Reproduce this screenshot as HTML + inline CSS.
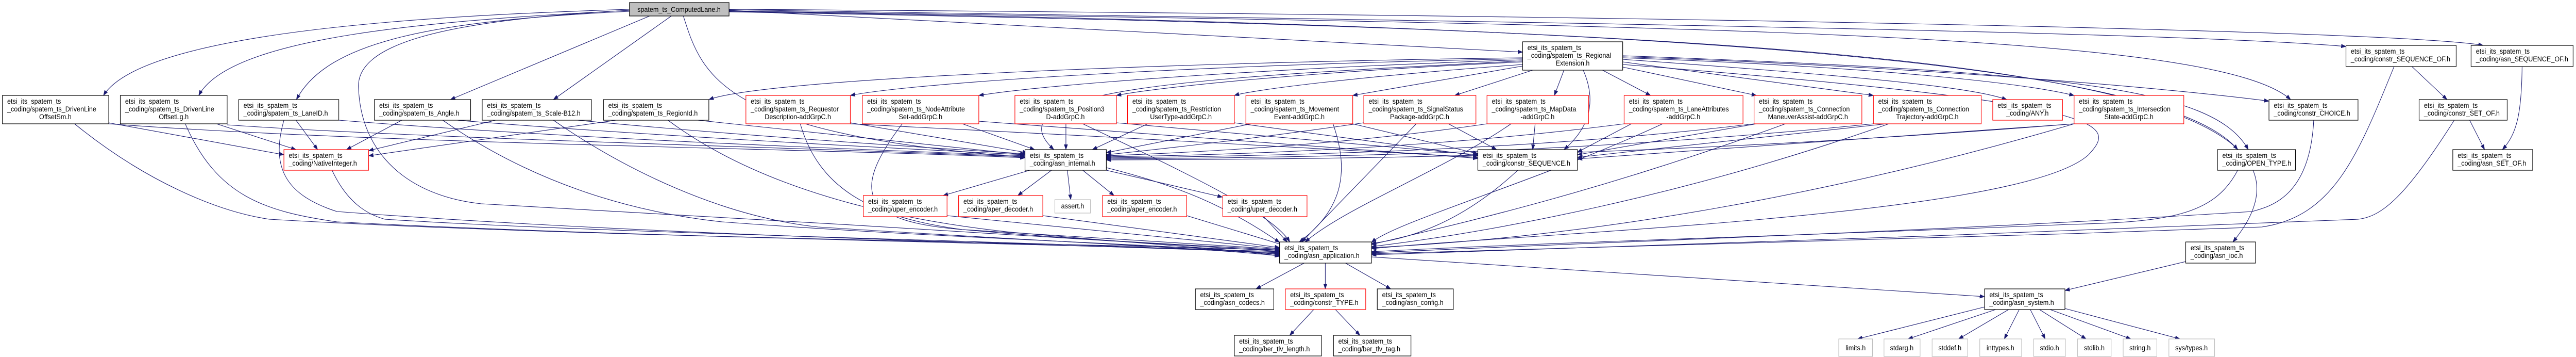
<!DOCTYPE html>
<html><head><meta charset="utf-8"><style>
html,body{margin:0;padding:0;background:#fff;width:100%;height:100%;overflow:hidden;}
svg{display:block;position:fixed;left:0;top:0;width:100vw;height:100vh;}
text{font-family:"Liberation Sans",sans-serif;font-size:13.5px;fill:#000;}
.e{fill:none;stroke:#191970;stroke-width:1.1;marker-end:url(#a);}
.b{fill:#fff;stroke:#000;stroke-width:1.2;}
.r{fill:#fff;stroke:#ff0000;stroke-width:1.2;}
.g{fill:#fff;stroke:#bfbfbf;stroke-width:1.2;}
</style></head><body>
<svg viewBox="0 0 5353 692" preserveAspectRatio="none" xmlns="http://www.w3.org/2000/svg">
<defs><marker id="a" markerWidth="11" markerHeight="8" refX="10" refY="4" orient="auto" markerUnits="userSpaceOnUse"><path d="M0,0 L11,4 L0,8 z" fill="#191970"/></marker></defs>

<path class="e" d="M1308,18 C900,30 300,60 215,185"/>
<path class="e" d="M1308,20 C900,40 480,70 413,185"/>
<path class="e" d="M1308,22 C900,40 680,80 616,193"/>
<path class="e" d="M1308,20 C900,40 740,90 745,170 C750,300 850,380 1000,395 C1500,420 2200,460 2659,487"/>
<path class="e" d="M1350,31 L936,193"/>
<path class="e" d="M1395,31 L1150,193"/>
<path class="e" d="M1420,31 C1460,150 1500,260 2130,305"/>
<path class="e" d="M1515,20 L3164,101"/>
<path class="e" d="M1515,19 C3000,40 4500,60 4875,90"/>
<path class="e" d="M1515,18 C3500,30 5000,60 5160,88"/>
<path class="e" d="M1515,21 C3500,50 4600,60 4760,193"/>
<path class="e" d="M1515,22 C3500,50 4500,120 4650,290"/>
<path class="e" d="M1515,23 C3800,60 4950,120 4640,469"/>

<path class="e" d="M3164,112 C2500,120 1600,150 1473,193"/>
<path class="e" d="M3164,114 C2500,125 1900,160 1767,185"/>
<path class="e" d="M3164,116 C2700,130 2200,160 2034,185"/>
<path class="e" d="M3164,118 C2500,150 2050,170 2190,290"/>
<path class="e" d="M3164,120 C2700,140 2400,170 2320,185"/>
<path class="e" d="M3164,125 C2800,150 2600,175 2565,185"/>
<path class="e" d="M3164,128 L2811,185"/>
<path class="e" d="M3185,136 L3023,185"/>
<path class="e" d="M3250,136 L3230,185"/>
<path class="e" d="M3290,136 C3320,200 3300,250 3250,290"/>
<path class="e" d="M3330,136 L3430,185"/>
<path class="e" d="M3372,130 L3650,185"/>
<path class="e" d="M3372,120 L3893,185"/>
<path class="e" d="M3372,115 C3900,150 4100,170 4170,193"/>
<path class="e" d="M3372,112 C3900,130 4200,160 4310,185"/>
<path class="e" d="M3372,110 C4000,130 4500,170 4715,196"/>
<path class="e" d="M3372,108 C4300,140 4600,170 4672,290"/>
<path class="e" d="M3372,125 C4400,200 4400,240 4340,300 C4200,420 3200,450 2850,482"/>

<path class="e" d="M226,238 L590,300"/>
<path class="e" d="M450,240 L615,290"/>
<path class="e" d="M615,233 L660,290"/>
<path class="e" d="M835,233 L720,290"/>
<path class="e" d="M1030,233 L766,292"/>
<path class="e" d="M1280,233 L766,302"/>

<path class="e" d="M226,240 C800,280 1800,290 2130,306"/>
<path class="e" d="M472,242 C900,270 1800,290 2130,304"/>
<path class="e" d="M704,233 C1200,270 1800,290 2130,302"/>
<path class="e" d="M950,233 C1300,260 1800,285 2130,300"/>
<path class="e" d="M1200,233 C1500,260 1900,285 2130,298"/>
<path class="e" d="M1450,233 L2130,300"/>
<path class="e" d="M1767,238 L2135,296"/>
<path class="e" d="M2000,240 L2150,290"/>
<path class="e" d="M2215,240 L2215,290"/>
<path class="e" d="M2385,240 L2270,290"/>
<path class="e" d="M2600,240 L2299,296"/>
<path class="e" d="M2834,238 C2600,270 2400,290 2299,300"/>
<path class="e" d="M3090,240 C2800,280 2500,295 2299,302"/>
<path class="e" d="M3375,240 C3000,285 2600,300 2299,304"/>
<path class="e" d="M3645,240 C3200,290 2700,302 2299,306"/>
<path class="e" d="M3893,240 C3300,295 2800,305 2299,308"/>
<path class="e" d="M4310,240 C3500,300 2900,308 2299,310"/>

<path class="e" d="M155,240 C300,350 450,410 560,425 C1200,460 2200,470 2659,485"/>
<path class="e" d="M385,240 C450,380 550,410 700,430 C1300,460 2300,475 2659,488"/>
<path class="e" d="M590,233 C560,330 600,380 700,410 C1400,460 2300,475 2659,490"/>
<path class="e" d="M690,330 C720,390 760,415 800,425 C1300,455 2300,470 2659,492"/>
<path class="e" d="M920,233 C1100,350 1300,410 1500,430 C2000,465 2500,475 2659,494"/>
<path class="e" d="M1150,233 C1300,330 1500,420 1700,440 C2200,470 2500,480 2659,496"/>
<path class="e" d="M1388,233 C1600,380 1900,430 2100,450 C2400,475 2600,485 2659,497"/>
<path class="e" d="M1663,240 C1700,360 1800,420 2000,445 C2300,470 2600,480 2659,485"/>
<path class="e" d="M1875,240 C1760,380 1800,430 2000,445 C2400,470 2600,480 2659,483"/>
<path class="e" d="M2250,240 C2500,350 2650,420 2680,469"/>
<path class="e" d="M2770,240 C2800,320 2800,400 2700,469"/>
<path class="e" d="M2943,240 L2705,469"/>
<path class="e" d="M3140,240 C3000,330 2800,400 2712,469"/>
<path class="e" d="M3455,240 C3200,350 2900,430 2850,470"/>
<path class="e" d="M3710,240 C3300,380 3000,440 2850,474"/>
<path class="e" d="M3925,240 C3500,380 3100,450 2850,478"/>
<path class="e" d="M4310,240 C3800,380 3300,460 2850,480"/>
<path class="e" d="M3154,330 C3050,420 2950,460 2850,472"/>
<path class="e" d="M1968,418 L2659,482"/>
<path class="e" d="M2167,418 L2659,480"/>
<path class="e" d="M2466,418 L2670,476"/>
<path class="e" d="M2626,420 L2675,469"/>
<path class="e" d="M2299,325 C2450,360 2550,400 2659,470"/>
<path class="e" d="M4650,330 C4600,420 4500,430 4300,435 C3800,455 3200,470 2850,488"/>
<path class="e" d="M4808,233 C4800,380 4720,400 4680,410 C4000,450 3300,470 2850,490"/>
<path class="e" d="M4975,129 C4900,300 4850,420 4700,440 C4000,465 3200,480 2850,492"/>
<path class="e" d="M5100,233 C5000,380 4950,420 4900,425 C4300,450 3300,480 2850,494"/>

<path class="e" d="M1767,240 C2200,260 2800,290 3071,305"/>
<path class="e" d="M2034,235 C2500,270 2900,295 3071,307"/>
<path class="e" d="M2320,238 L3071,300"/>
<path class="e" d="M2565,238 L3071,302"/>
<path class="e" d="M2811,240 L3071,298"/>
<path class="e" d="M3010,240 L3110,290"/>
<path class="e" d="M3190,240 L3185,290"/>
<path class="e" d="M3390,240 L3278,295"/>
<path class="e" d="M3650,240 L3278,300"/>
<path class="e" d="M3920,240 L3278,305"/>
<path class="e" d="M4310,240 L3278,308"/>

<path class="e" d="M2140,330 L1960,379"/>
<path class="e" d="M2185,330 L2115,379"/>
<path class="e" d="M2218,330 L2225,387"/>
<path class="e" d="M2250,330 L2315,379"/>
<path class="e" d="M2299,330 L2540,382"/>

<path class="e" d="M2710,510 L2610,560"/>
<path class="e" d="M2754,510 L2754,560"/>
<path class="e" d="M2796,510 L2890,560"/>
<path class="e" d="M2850,498 L4124,575"/>
<path class="e" d="M2730,600 L2680,650"/>
<path class="e" d="M2775,600 L2826,650"/>
<path class="e" d="M4542,507 L4291,563"/>
<path class="e" d="M4124,595 L3860,657"/>
<path class="e" d="M4147,600 L3965,657"/>
<path class="e" d="M4174,600 L4070,657"/>
<path class="e" d="M4196,600 L4165,657"/>
<path class="e" d="M4219,600 L4250,657"/>
<path class="e" d="M4238,600 L4335,657"/>
<path class="e" d="M4260,600 L4428,657"/>
<path class="e" d="M4291,598 L4530,657"/>
<path class="e" d="M5012,129 L5085,193"/>
<path class="e" d="M5132,233 L5163,290"/>
<path class="e" d="M5241,129 C5240,220 5230,260 5200,290"/>

<rect x="1308" y="5" width="207" height="26" fill="#bfbfbf" stroke="#000" stroke-width="1.2"/>
<text x="1411" y="23" text-anchor="middle">spatem_ts_ComputedLane.h</text>

<g>
<rect class="b" x="5" y="185" width="221" height="55"/><text x="15" y="201">etsi_its_spatem_ts</text><text x="15" y="216">_coding/spatem_ts_DrivenLine</text><text x="115" y="231" text-anchor="middle">OffsetSm.h</text>
<rect class="b" x="250" y="185" width="222" height="55"/><text x="260" y="201">etsi_its_spatem_ts</text><text x="260" y="216">_coding/spatem_ts_DrivenLine</text><text x="361" y="231" text-anchor="middle">OffsetLg.h</text>
<rect class="b" x="496" y="193" width="208" height="40"/><text x="506" y="209">etsi_its_spatem_ts</text><text x="506" y="224">_coding/spatem_ts_LaneID.h</text>
<rect class="b" x="778" y="193" width="200" height="40"/><text x="788" y="209">etsi_its_spatem_ts</text><text x="788" y="224">_coding/spatem_ts_Angle.h</text>
<rect class="b" x="1002" y="193" width="227" height="40"/><text x="1012" y="209">etsi_its_spatem_ts</text><text x="1012" y="224">_coding/spatem_ts_Scale-B12.h</text>
<rect class="b" x="1254" y="193" width="219" height="40"/><text x="1264" y="209">etsi_its_spatem_ts</text><text x="1264" y="224">_coding/spatem_ts_RegionId.h</text>
<rect class="r" x="590" y="290" width="176" height="40"/><text x="600" y="306">etsi_its_spatem_ts</text><text x="600" y="321">_coding/NativeInteger.h</text>

<rect class="r" x="1550" y="185" width="217" height="55"/><text x="1560" y="201">etsi_its_spatem_ts</text><text x="1560" y="216">_coding/spatem_ts_Requestor</text><text x="1658" y="231" text-anchor="middle">Description-addGrpC.h</text>
<rect class="r" x="1792" y="185" width="242" height="55"/><text x="1802" y="201">etsi_its_spatem_ts</text><text x="1802" y="216">_coding/spatem_ts_NodeAttribute</text><text x="1913" y="231" text-anchor="middle">Set-addGrpC.h</text>
<rect class="r" x="2109" y="185" width="211" height="55"/><text x="2119" y="201">etsi_its_spatem_ts</text><text x="2119" y="216">_coding/spatem_ts_Position3</text><text x="2214" y="231" text-anchor="middle">D-addGrpC.h</text>
<rect class="r" x="2343" y="185" width="222" height="55"/><text x="2353" y="201">etsi_its_spatem_ts</text><text x="2353" y="216">_coding/spatem_ts_Restriction</text><text x="2454" y="231" text-anchor="middle">UserType-addGrpC.h</text>
<rect class="r" x="2589" y="185" width="222" height="55"/><text x="2599" y="201">etsi_its_spatem_ts</text><text x="2599" y="216">_coding/spatem_ts_Movement</text><text x="2700" y="231" text-anchor="middle">Event-addGrpC.h</text>
<rect class="r" x="2834" y="185" width="233" height="55"/><text x="2844" y="201">etsi_its_spatem_ts</text><text x="2844" y="216">_coding/spatem_ts_SignalStatus</text><text x="2950" y="231" text-anchor="middle">Package-addGrpC.h</text>
<rect class="r" x="3090" y="185" width="211" height="55"/><text x="3100" y="201">etsi_its_spatem_ts</text><text x="3100" y="216">_coding/spatem_ts_MapData</text><text x="3195" y="231" text-anchor="middle">-addGrpC.h</text>
<rect class="r" x="3375" y="185" width="247" height="55"/><text x="3385" y="201">etsi_its_spatem_ts</text><text x="3385" y="216">_coding/spatem_ts_LaneAttributes</text><text x="3498" y="231" text-anchor="middle">-addGrpC.h</text>
<rect class="r" x="3645" y="185" width="224" height="55"/><text x="3655" y="201">etsi_its_spatem_ts</text><text x="3655" y="216">_coding/spatem_ts_Connection</text><text x="3757" y="231" text-anchor="middle">ManeuverAssist-addGrpC.h</text>
<rect class="r" x="3893" y="185" width="224" height="55"/><text x="3903" y="201">etsi_its_spatem_ts</text><text x="3903" y="216">_coding/spatem_ts_Connection</text><text x="4005" y="231" text-anchor="middle">Trajectory-addGrpC.h</text>
<rect class="r" x="4141" y="193" width="145" height="40"/><text x="4151" y="209">etsi_its_spatem_ts</text><text x="4213" y="224" text-anchor="middle">_coding/ANY.h</text>
<rect class="r" x="4310" y="185" width="228" height="55"/><text x="4320" y="201">etsi_its_spatem_ts</text><text x="4320" y="216">_coding/spatem_ts_Intersection</text><text x="4424" y="231" text-anchor="middle">State-addGrpC.h</text>

<rect class="b" x="3164" y="81" width="208" height="55"/><text x="3174" y="97">etsi_its_spatem_ts</text><text x="3174" y="112">_coding/spatem_ts_Regional</text><text x="3268" y="127" text-anchor="middle">Extension.h</text>

<rect class="b" x="2130" y="290" width="169" height="40"/><text x="2140" y="306">etsi_its_spatem_ts</text><text x="2140" y="321">_coding/asn_internal.h</text>
<rect class="b" x="3071" y="290" width="207" height="40"/><text x="3081" y="306">etsi_its_spatem_ts</text><text x="3081" y="321">_coding/constr_SEQUENCE.h</text>
<rect class="b" x="4608" y="290" width="162" height="40"/><text x="4618" y="306">etsi_its_spatem_ts</text><text x="4618" y="321">_coding/OPEN_TYPE.h</text>
<rect class="b" x="4715" y="193" width="185" height="40"/><text x="4725" y="209">etsi_its_spatem_ts</text><text x="4725" y="224">_coding/constr_CHOICE.h</text>
<rect class="b" x="4875" y="88" width="229" height="41"/><text x="4885" y="104">etsi_its_spatem_ts</text><text x="4885" y="119">_coding/constr_SEQUENCE_OF.h</text>
<rect class="b" x="5135" y="88" width="212" height="41"/><text x="5145" y="104">etsi_its_spatem_ts</text><text x="5145" y="119">_coding/asn_SEQUENCE_OF.h</text>
<rect class="b" x="5027" y="193" width="183" height="40"/><text x="5037" y="209">etsi_its_spatem_ts</text><text x="5037" y="224">_coding/constr_SET_OF.h</text>
<rect class="b" x="5097" y="290" width="166" height="40"/><text x="5107" y="306">etsi_its_spatem_ts</text><text x="5107" y="321">_coding/asn_SET_OF.h</text>

<rect class="r" x="1794" y="379" width="174" height="41"/><text x="1804" y="395">etsi_its_spatem_ts</text><text x="1804" y="410">_coding/uper_encoder.h</text>
<rect class="r" x="1992" y="379" width="175" height="41"/><text x="2002" y="395">etsi_its_spatem_ts</text><text x="2002" y="410">_coding/aper_decoder.h</text>
<rect class="g" x="2192" y="387" width="74" height="26"/><text x="2229" y="404" text-anchor="middle">assert.h</text>
<rect class="r" x="2291" y="379" width="175" height="41"/><text x="2301" y="395">etsi_its_spatem_ts</text><text x="2301" y="410">_coding/aper_encoder.h</text>
<rect class="r" x="2541" y="379" width="175" height="41"/><text x="2551" y="395">etsi_its_spatem_ts</text><text x="2551" y="410">_coding/uper_decoder.h</text>

<rect class="b" x="2659" y="469" width="191" height="41"/><text x="2669" y="485">etsi_its_spatem_ts</text><text x="2669" y="500">_coding/asn_application.h</text>
<rect class="b" x="4542" y="469" width="145" height="41"/><text x="4552" y="485">etsi_its_spatem_ts</text><text x="4552" y="500">_coding/asn_ioc.h</text>
<rect class="b" x="2484" y="560" width="163" height="40"/><text x="2494" y="576">etsi_its_spatem_ts</text><text x="2494" y="591">_coding/asn_codecs.h</text>
<rect class="r" x="2671" y="560" width="167" height="40"/><text x="2681" y="576">etsi_its_spatem_ts</text><text x="2681" y="591">_coding/constr_TYPE.h</text>
<rect class="b" x="2862" y="560" width="158" height="40"/><text x="2872" y="576">etsi_its_spatem_ts</text><text x="2872" y="591">_coding/asn_config.h</text>
<rect class="b" x="4124" y="560" width="167" height="40"/><text x="4134" y="576">etsi_its_spatem_ts</text><text x="4134" y="591">_coding/asn_system.h</text>
<rect class="b" x="2565" y="650" width="181" height="40"/><text x="2575" y="666">etsi_its_spatem_ts</text><text x="2575" y="681">_coding/ber_tlv_length.h</text>
<rect class="b" x="2771" y="650" width="161" height="40"/><text x="2781" y="666">etsi_its_spatem_ts</text><text x="2781" y="681">_coding/ber_tlv_tag.h</text>

<rect class="g" x="3821" y="657" width="70" height="34"/><text x="3856" y="679" text-anchor="middle">limits.h</text>
<rect class="g" x="3915" y="657" width="75" height="34"/><text x="3952" y="679" text-anchor="middle">stdarg.h</text>
<rect class="g" x="4015" y="657" width="74" height="34"/><text x="4052" y="679" text-anchor="middle">stddef.h</text>
<rect class="g" x="4114" y="657" width="87" height="34"/><text x="4157" y="679" text-anchor="middle">inttypes.h</text>
<rect class="g" x="4226" y="657" width="66" height="34"/><text x="4259" y="679" text-anchor="middle">stdio.h</text>
<rect class="g" x="4317" y="657" width="70" height="34"/><text x="4352" y="679" text-anchor="middle">stdlib.h</text>
<rect class="g" x="4412" y="657" width="70" height="34"/><text x="4447" y="679" text-anchor="middle">string.h</text>
<rect class="g" x="4507" y="657" width="95" height="34"/><text x="4554" y="679" text-anchor="middle">sys/types.h</text>
</g>
</svg>
</body></html>
